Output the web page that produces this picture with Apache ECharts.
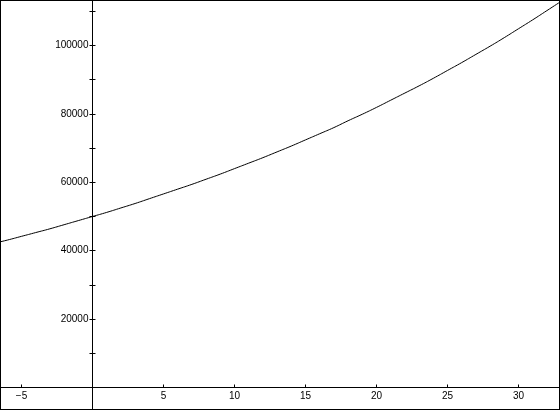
<!DOCTYPE html>
<html>
<head>
<meta charset="utf-8">
<script src="https://cdn.jsdelivr.net/npm/echarts@6/dist/echarts.min.js"></script>
<style>
  html, body { margin: 0; padding: 0; background: #fff; }
  #wrap { position: relative; width: 560px; height: 410px; overflow: hidden; }
  #chart { position: absolute; left: 0; top: 0; width: 560px; height: 410px; }
  #frame { position: absolute; left: 0; top: 0; width: 560px; height: 410px; box-sizing: border-box; border: 1px solid #000; pointer-events: none; }
</style>
</head>
<body>
<div id="wrap"><div id="chart"></div><div id="frame"></div></div>
<script>
// values
const xValues = [-7, -6, -5, -4, -3, -2, -1, 0, 1, 2, 3, 4, 5, 6, 7, 8, 9, 10, 11, 12, 13, 14, 15, 16, 17, 18, 19, 20, 21, 22, 23, 24, 25, 26, 27, 28, 29, 30, 31, 32, 33];
const yValues = [42100, 43100, 44200, 45300, 46400, 47600, 48800, 50000, 51200, 52500, 53800, 55200, 56600, 58000, 59400, 60900, 62400, 64000, 65600, 67200, 68900, 70600, 72400, 74200, 76000, 78000, 79900, 81900, 84000, 86100, 88200, 90400, 92700, 95000, 97400, 99800, 102300, 104900, 107500, 110200, 112900];
const xTickValues = [-5, 0, 5, 10, 15, 20, 25, 30];
const xLabelValues = [-5, 5, 10, 15, 20, 25, 30];
const yTickValues = [10000, 20000, 30000, 40000, 50000, 60000, 70000, 80000, 90000, 100000, 110000];
const yLabelValues = [20000, 40000, 60000, 80000, 100000];
const xRange = [-6.514, 32.923];
const yRange = [-6579, 113304];

const el = document.getElementById('chart');
const chart = echarts.init(el, null, { renderer: 'canvas' });
const font = { fontFamily: 'Liberation Sans', fontSize: 10, color: '#000' };
const points = xValues.map((x, i) => [x, yValues[i]]);
const W = el.clientWidth, H = el.clientHeight;

function build(xOff, yOff, yOffR) {
  return {
    animation: false,
    grid: { left: 0, top: 0, right: 0, bottom: 0, show: false, containLabel: false, outerBoundsMode: 'none' },
    xAxis: {
      type: 'value', position: 'bottom', offset: xOff,
      min: xRange[0], max: xRange[1],
      axisLine: { onZero: false, lineStyle: { color: '#000', width: 1 } },
      axisTick: { show: true, inside: true, length: 3, customValues: xTickValues, lineStyle: { color: '#000' } },
      axisLabel: Object.assign({ margin: 4, customValues: xLabelValues, formatter: v => String(v).replace('-', '\u2212') }, font),
      splitLine: { show: false }
    },
    yAxis: [{
      type: 'value', position: 'left', offset: yOff,
      min: yRange[0], max: yRange[1],
      axisLine: { onZero: false, lineStyle: { color: '#000', width: 1 } },
      axisTick: { show: true, inside: false, length: 3, customValues: yTickValues, lineStyle: { color: '#000' } },
      axisLabel: Object.assign({ margin: 4, customValues: yLabelValues, formatter: v => String(v) }, font),
      splitLine: { show: false }
    }, {
      type: 'value', position: 'right', offset: yOffR,
      min: yRange[0], max: yRange[1],
      axisLine: { show: false, onZero: false },
      axisTick: { show: true, inside: false, length: 3, customValues: yTickValues, lineStyle: { color: '#000' } },
      axisLabel: { show: false },
      splitLine: { show: false }
    }],
    series: [{
      type: 'line',
      data: points,
      smooth: true,
      showSymbol: false,
      clip: true,
      lineStyle: { color: '#000', width: 1 },
      itemStyle: { color: '#000' }
    }]
  };
}

chart.setOption(build(0, 0, 0));
// place the axes where the other axis crosses zero, using the library's own scales
const px = chart.convertToPixel({ xAxisIndex: 0 }, 0);
const py = chart.convertToPixel({ yAxisIndex: 0 }, 0);
chart.setOption(build(-(H - py), -px, -(W - px)));
</script>
</body>
</html>
